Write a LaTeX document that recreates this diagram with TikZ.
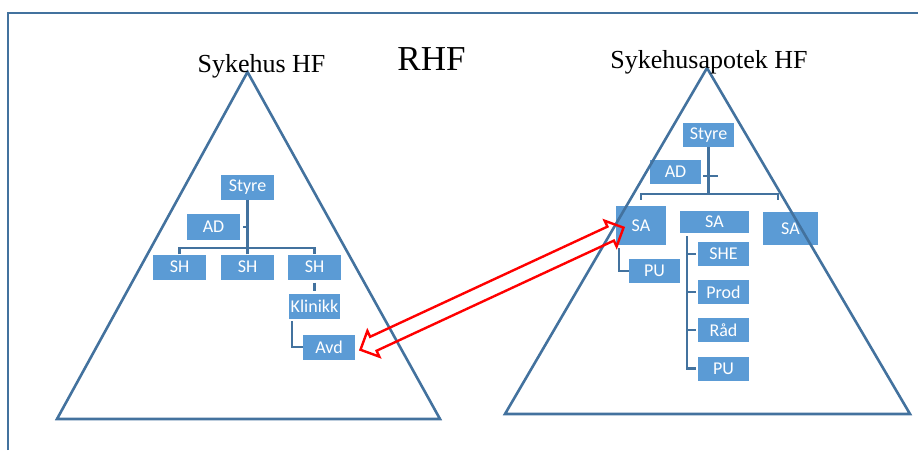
\documentclass[tikz,border=0pt]{standalone}
\usepackage{fontspec}
\setmainfont{Liberation Serif}
\newfontfamily\boxfont{Carlito}
\usetikzlibrary{shapes.arrows}
\definecolor{orgblue}{RGB}{91,155,213}
\definecolor{lineblue}{RGB}{67,114,158}

\begin{document}
\begin{tikzpicture}[x=1pt,y=-1pt,
                unit/.style={rectangle,fill=orgblue,text=white,inner sep=0,minimum width=53,minimum height=25,font=\boxfont\fontsize{18}{20}\selectfont},
                link/.style={draw=lineblue,line width=2.5pt},
                pyramid/.style={draw=lineblue,line width=2.6pt,line join=miter},
                title/.style={anchor=base,inner sep=0,font=\fontsize{26}{30}\selectfont},
                bridge/.style={double arrow,draw=red,line width=2.4pt,inner xsep=0,inner ysep=6.5,double arrow head extend=6.5,double arrow tip angle=90}
            ]
                \useasboundingbox (0,0) rectangle (918,450);
                \draw[link] (8,450) -- (8,13) -- (918,13);

                \node[unit] (lstyre) at (247.5,187) {Styre};
                \node[unit,minimum height=26] (lad) at (213.5,227) {AD};
                \foreach \i/\x in {1/179.5,2/247.5,3/314.5}
                    {
                    \node[unit] (lsh\i) at (\x,267) {SH};
                }
                \node[unit,minimum width=51] (lklinikk) at (314.5,306.5) {Klinikk};
                \node[unit,minimum width=52] (lavd) at (329,347) {Avd};

                \coordinate (lbar) at (247.5,248);
                \draw[link] (lstyre.south) -- (lbar);
                \draw[link] (lsh1.north) -- (lsh1.north |- lbar) -- (lsh3.north |- lbar) -- (lsh3.north);
                \draw[link] (lsh2.north) -- (lbar);
                \draw[link] ([xshift=3]lad.east) -- (lstyre.south |- lad.east);
                \draw[link,shorten <=3,shorten >=3] (lsh3.south) -- (lklinikk.north);
                \draw[link] ([xshift=-22.5,yshift=-2]lklinikk.south) |- (lavd.west);

                \node[unit,minimum width=51,minimum height=24] (rstyre) at (708.5,135) {Styre};
                \node[unit,minimum width=51,minimum height=24] (rad) at (675.5,172) {AD};
                \node[unit,minimum width=50,minimum height=39] (rsa1) at (641,225.5) {SA};
                \node[unit,minimum width=69,minimum height=22] (rsa2) at (714.5,222) {SA};
                \node[unit,minimum width=55,minimum height=33] (rsa3) at (790.5,228.5) {SA};
                \node[unit,minimum width=51,minimum height=24] (rpu1) at (654.5,271) {PU};
                \foreach \n/\y/\t in {rshe/254/SHE,rprod/292/Prod,rraad/330/Råd,rpu2/368.5/PU}
                    {
                    \node[unit,minimum width=51,minimum height=24] (\n) at (723.5,\y) {\t};
                }

                \coordinate (rbar) at (708.5,194);
                \draw[link] (rstyre.south) -- (rbar);
                \draw[link] ([yshift=6]rsa1.north) -- (rsa1.north |- rbar) -- ([xshift=-12.5]rsa3.north |- rbar) -- ([xshift=-12.5,yshift=12]rsa3.north);
                \draw[link] ([xshift=2,yshift=-4]rad.east) -- ++(15,0);
                \draw[link] ([xshift=-22,yshift=-3]rsa1.south) |- (rpu1.west);
                \coordinate (rspine) at ([xshift=-27.5,yshift=-3]rsa2.south);
                \draw[link] (rspine) |- ([xshift=-2]rpu2.west);
                \foreach \n in {rshe,rprod,rraad}
                    {
                    \draw[link] (\n.west -| rspine) -- ([xshift=-2]\n.west);
                }

                \draw[pyramid] (247.5,72) -- (440,419) -- (57,419) -- cycle;
                \draw[pyramid] (707,68) -- (910,414) -- (505,414) -- cycle;

                \node[title] (sykehus) at (261.5,72) {Sykehus HF};
                \node[title] (apotek) at (709,68) {Sykehusapotek HF};
                \node[title,font=\fontsize{35}{40}\selectfont] (rhf) at (431.5,70) {RHF};

                \node[bridge,rotate=24.9,minimum height=290] (samband) at (492,288.7) {};

            \end{tikzpicture}
\end{document}
